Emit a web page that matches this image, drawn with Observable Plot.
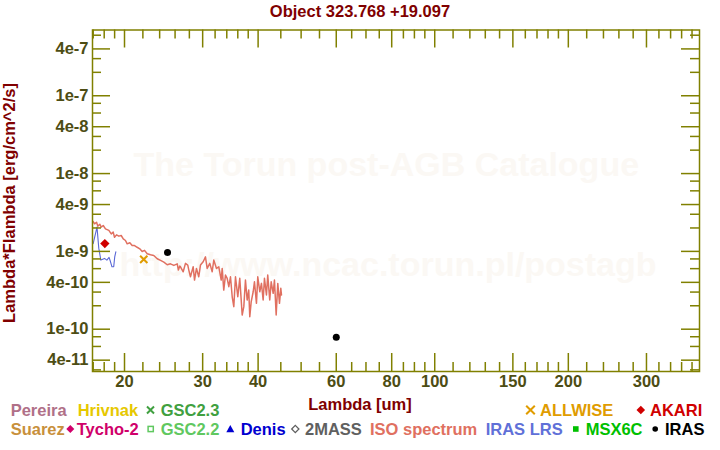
<!DOCTYPE html>
<html><head><meta charset="utf-8">
<script src="https://cdn.jsdelivr.net/npm/d3@7"></script>
<script src="https://cdn.jsdelivr.net/npm/@observablehq/plot@0.6"></script>
<style>
body{margin:0;background:#fff;}
#wrap{position:relative;width:720px;height:450px;font-family:"Liberation Sans",Arial,sans-serif;}
#wrap svg{position:absolute;left:0;top:0;}
</style></head><body><div id="wrap"></div>
<script>
// ---------- data ----------
const titleText = "Object 323.768 +19.097";
const xAxisTitle = "Lambda [um]";
const yAxisTitle = "Lambda*Flambda [erg/cm^2/s]";
const watermark1 = "The Torun post-AGB Catalogue";
const watermark2 = "http://www.ncac.torun.pl/postagb";

const isoLambda = [17.0,17.12,17.3,17.41,17.6,17.72,17.91,18.12,18.44,18.67,18.86,18.99,19.19,19.42,19.66,19.87,20.1,20.28,20.56,20.81,21.07,21.36,21.65,21.92,22.19,22.5,22.89,23.28,23.7,24.11,24.53,24.96,25.39,25.83,26.29,26.45,26.64,26.74,
  27.12,27.44,27.77,27.92,28.16,28.56,28.76,29.05,29.4,29.66,30.08,30.44,30.71,31.13,31.52,31.78,32.23,32.62,33.03,33.2,33.47,33.77,34.07,34.36,34.66,34.97,35.26,35.57,36.0,36.37,36.83,37.14,37.46,37.79,38.1,38.31,38.59,38.99,39.25,39.66,39.93,40.35,40.7,41.06,41.34,41.77,42.05,42.49,42.81,43.25,43.54,43.93,44.3,44.69,45.0,45.16];
const isoFlux = [2.42e-9,2.26e-9,2.37e-9,2.11e-9,2.23e-9,2.05e-9,2.15e-9,1.95e-9,1.86e-9,1.68e-9,1.77e-9,1.52e-9,1.63e-9,1.57e-9,1.60e-9,1.45e-9,1.38e-9,1.25e-9,1.29e-9,1.19e-9,1.19e-9,1.13e-9,1.08e-9,9.98e-10,1.03e-9,9.31e-10,9.03e-10,8.87e-10,8.03e-10,7.66e-10,7.28e-10,6.73e-10,6.92e-10,6.61e-10,6.92e-10,5.75e-10,6.47e-10,6.34e-10,
  5.47e-10,7.01e-10,6.67e-10,5.75e-10,4.72e-10,6.34e-10,4.28e-10,6.04e-10,4.72e-10,6.67e-10,7.35e-10,8.51e-10,6.04e-10,7.01e-10,5.47e-10,7.73e-10,6.04e-10,6.34e-10,4.28e-10,6.04e-10,3.18e-10,4.96e-10,4.50e-10,3.52e-10,4.72e-10,2.61e-10,1.95e-10,4.72e-10,2.61e-10,4.50e-10,1.52e-10,1.95e-10,4.28e-10,2.37e-10,3.18e-10,1.45e-10,2.25e-10,3.03e-10,4.07e-10,2.15e-10,4.72e-10,3.03e-10,3.88e-10,2.37e-10,4.50e-10,2.75e-10,4.96e-10,2.37e-10,4.07e-10,2.89e-10,4.28e-10,1.52e-10,3.88e-10,2.15e-10,3.35e-10,2.75e-10];

const lrsLambda = [17.0,17.34,17.5,17.69,18.03,18.25,18.46,18.6,18.74,18.91,19.01,19.12];
const lrsFlux = [1.26e-9,2.05e-9,1.10e-9,7.73e-10,8.12e-10,7.73e-10,8.37e-10,7.35e-10,6.34e-10,6.34e-10,8.51e-10,9.87e-10];

const akariLambda = [18.06];
const akariFlux = [1.26e-9];
const allwiseLambda = [22.1];
const allwiseFlux = [7.9e-10];
const irasLambda = [25.0, 60.0];
const irasFlux = [9.7e-10, 7.9e-11];

const xMajor = [20,30,40,60,80,100,150,200,300];
const xMajorLabels = ["20","30","40","60","80","100","150","200","300"];
const xMinor = [17,18,19,22,24,26,28,32,34,36,38,45,50,55,65,70,75,85,90,95,110,120,130,140,160,170,180,190,220,240,260,280,320,340,360,380];
const yMajor = [4e-11,1e-10,4e-10,1e-9,4e-9,1e-8,4e-8,1e-7,4e-7];
const yMajorLabels = ["4e-11","1e-10","4e-10","1e-9","4e-9","1e-8","4e-8","1e-7","4e-7"];
const yMinor = [3e-11,6e-11,8e-11,2e-10,3e-10,6e-10,8e-10,2e-9,3e-9,6e-9,8e-9,2e-8,3e-8,6e-8,8e-8,2e-7,3e-7,6e-7];
const xDomain = [16.94, 395];
const yDomain = [2.86e-11, 7.0e-7];

const legendRow1 = ["Pereira","Hrivnak","GSC2.3","ALLWISE","AKARI"];
const legendRow2 = ["Suarez","Tycho-2","GSC2.2","Denis","2MASS","ISO spectrum","IRAS LRS","MSX6C","IRAS"];

// ---------- build tables ----------
const iso = isoLambda.map((l,i)=>({lambda:l, flux:isoFlux[i]}));
const lrs = lrsLambda.map((l,i)=>({lambda:l, flux:lrsFlux[i]}));
const akari = akariLambda.map((l,i)=>({lambda:l, flux:akariFlux[i]}));
const allwise = allwiseLambda.map((l,i)=>({lambda:l, flux:allwiseFlux[i]}));
const iras = irasLambda.map((l,i)=>({lambda:l, flux:irasFlux[i]}));
const xTicks = xMajor.map((v,i)=>({v, label:xMajorLabels[i]}));
const yTicks = yMajor.map((v,i)=>({v, label:yMajorLabels[i]}));

// ---------- layout ----------
const W=720, H=450, mL=92, mR=21, mT=29.5, mB=79;
const fH = H-mT-mB, fW = W-mL-mR;
const olive = "#808000", tickText = "#4d4d14", maroon = "#800000";
const font = '"Liberation Sans", Arial, sans-serif';
const fs = 16.5;

const chart = Plot.plot({
  width: W, height: H, marginLeft: mL, marginRight: mR, marginTop: mT, marginBottom: mB,
  style: {fontFamily: font, background: "transparent"},
  x: {type: "log", domain: xDomain, axis: null},
  y: {type: "log", domain: yDomain, axis: null},
  marks: [
    Plot.text([watermark1], {frameAnchor: "top-left", dx: 133-mL, dy: 175-mT, textAnchor: "start", lineAnchor: "bottom", fontSize: 34, fontWeight: "bold", fill: "#fbf8f4"}),
    Plot.text([watermark2], {frameAnchor: "top-left", dx: 119-mL, dy: 275-mT, textAnchor: "start", lineAnchor: "bottom", fontSize: 34, fontWeight: "bold", fill: "#fbf8f4"}),
    Plot.line(iso, {x: "lambda", y: "flux", stroke: "#e07060", strokeWidth: 1.5}),
    Plot.line(lrs, {x: "lambda", y: "flux", stroke: "#5a68d6", strokeWidth: 1.1}),
    Plot.dot(akari, {x: "lambda", y: "flux", symbol: "diamond2", fill: "#d00000", stroke: "none", r: 4.2}),
    Plot.dot(allwise, {x: "lambda", y: "flux", symbol: "times", stroke: "#e09c00", strokeWidth: 2, r: 3.4}),
    Plot.dot(iras, {x: "lambda", y: "flux", fill: "black", stroke: "none", r: 3.5}),
    // ticks (inward)
    Plot.tickX(xMajor, {x: d=>d, stroke: olive, strokeWidth: 1.5, insetTop: fH-18}),
    Plot.tickX(xMajor, {x: d=>d, stroke: olive, strokeWidth: 1.5, insetBottom: fH-18}),
    Plot.tickX(xMinor, {x: d=>d, stroke: olive, strokeWidth: 1.5, insetTop: fH-9}),
    Plot.tickX(xMinor, {x: d=>d, stroke: olive, strokeWidth: 1.5, insetBottom: fH-9}),
    Plot.tickY(yMajor, {y: d=>d, stroke: olive, strokeWidth: 1.5, insetRight: fW-18}),
    Plot.tickY(yMajor, {y: d=>d, stroke: olive, strokeWidth: 1.5, insetLeft: fW-18}),
    Plot.tickY(yMinor, {y: d=>d, stroke: olive, strokeWidth: 1.5, insetRight: fW-9}),
    Plot.tickY(yMinor, {y: d=>d, stroke: olive, strokeWidth: 1.5, insetLeft: fW-9}),
    Plot.frame({stroke: olive, strokeWidth: 1.5}),
    // tick labels
    Plot.text(xTicks, {x: "v", text: "label", frameAnchor: "bottom", dy: 4, lineAnchor: "top", fill: tickText, fontSize: fs, fontWeight: "bold"}),
    Plot.text(yTicks, {y: "v", text: "label", frameAnchor: "left", dx: -4, textAnchor: "end", lineAnchor: "middle", fill: tickText, fontSize: fs, fontWeight: "bold"})
  ]
});
document.getElementById("wrap").appendChild(chart);

// ---------- overlay texts: title, axis titles, legend ----------
const ov = d3.select("#wrap").append("svg").attr("width", W).attr("height", H)
  .style("pointer-events","none").style("font-family", font).style("font-weight","bold").style("font-size", fs + "px");
ov.append("text").attr("x", 360).attr("y", 16.5).attr("text-anchor","middle").attr("fill", maroon).text(titleText);
ov.append("text").attr("x", 360).attr("y", 410).attr("text-anchor","middle").attr("fill", maroon).text(xAxisTitle);
ov.append("text").attr("transform","translate(15,203) rotate(-90)").attr("text-anchor","middle").attr("fill", maroon).text(yAxisTitle);

const row1Style = [
  {x:10.7, color:"#b07088"},
  {x:77.7, color:"#e6c800"},
  {x:160.7, color:"#40a040", sym:"times", cx:150.5, s:3.5},
  {x:540, color:"#e09c00", sym:"times", cx:530.5, s:4.3},
  {x:650, color:"#d00000", sym:"diamond", cx:640.8, s:4.3}
];
const row2Style = [
  {x:10.7, color:"#c8903c"},
  {x:76.7, color:"#d0006a", sym:"diamond", cx:70.3, s:4},
  {x:160.7, color:"#60c860", sym:"square", cx:150.7, s:2.6},
  {x:240.7, color:"#0000d0", sym:"triangle", cx:230.3, s:4},
  {x:305, color:"#606060", sym:"diamondo", cx:295.3, s:3.6},
  {x:370, color:"#e07060"},
  {x:485.7, color:"#6070d8"},
  {x:585.7, color:"#00c000", sym:"squaref", cx:575.8, s:2.8},
  {x:665, color:"#000000", sym:"circle", cx:655.2, s:2.8}
];
function drawSym(sym, cx, cy, s, color){
  if(sym==="times") ov.append("path").attr("d",`M${cx-s},${cy-s}L${cx+s},${cy+s}M${cx-s},${cy+s}L${cx+s},${cy-s}`).attr("stroke",color).attr("stroke-width",2).attr("fill","none");
  else if(sym==="diamond") ov.append("path").attr("d",`M${cx},${cy-s}L${cx+s},${cy}L${cx},${cy+s}L${cx-s},${cy}Z`).attr("fill",color);
  else if(sym==="diamondo") ov.append("path").attr("d",`M${cx},${cy-s}L${cx+s},${cy}L${cx},${cy+s}L${cx-s},${cy}Z`).attr("fill","none").attr("stroke",color).attr("stroke-width",1.3);
  else if(sym==="square") ov.append("rect").attr("x",cx-s).attr("y",cy-s).attr("width",2*s).attr("height",2*s).attr("fill","none").attr("stroke",color).attr("stroke-width",1.5);
  else if(sym==="squaref") ov.append("rect").attr("x",cx-s).attr("y",cy-s).attr("width",2*s).attr("height",2*s).attr("fill",color);
  else if(sym==="triangle") ov.append("path").attr("d",`M${cx},${cy-s}L${cx+s},${cy+s*0.8}L${cx-s},${cy+s*0.8}Z`).attr("fill",color);
  else if(sym==="circle") ov.append("circle").attr("cx",cx).attr("cy",cy).attr("r",s).attr("fill",color);
}
function drawRow(names, styles, baseline){
  names.forEach((n,i)=>{
    const st = styles[i];
    ov.append("text").attr("x", st.x).attr("y", baseline).attr("fill", st.color).text(n);
    if(st.sym) drawSym(st.sym, st.cx, baseline-6, st.s, st.color);
  });
}
drawRow(legendRow1, row1Style, 416);
drawRow(legendRow2, row2Style, 435);
</script></body></html>
